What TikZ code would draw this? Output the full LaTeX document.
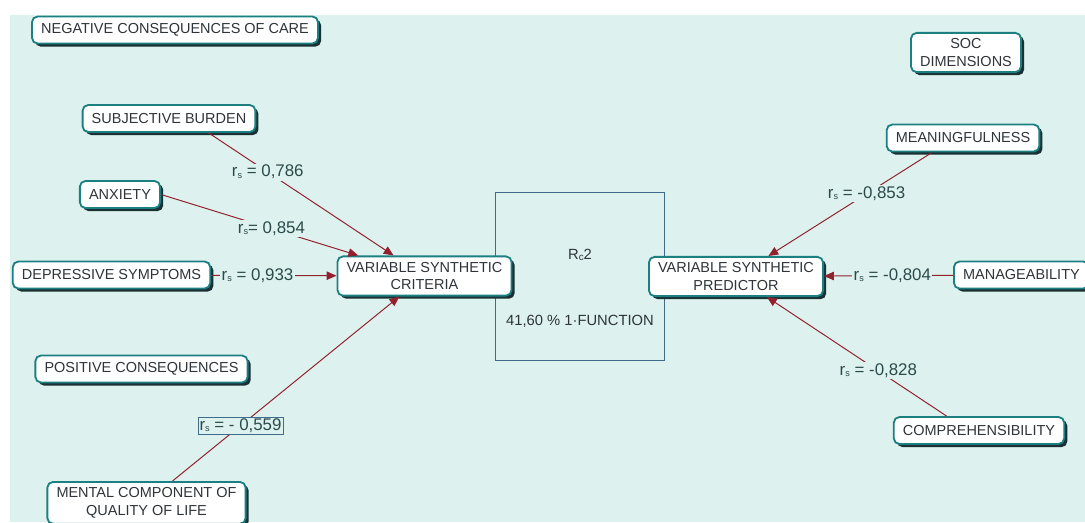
\documentclass[tikz,border=0pt]{standalone}
\usepackage{fontspec}
\setmainfont{Liberation Sans}
\usetikzlibrary{arrows.meta,shadows}
\definecolor{bgmint}{HTML}{DDF2EE}
\definecolor{boxteal}{HTML}{1C7F82}
\definecolor{shadowc}{HTML}{1A3034}
\definecolor{arrowred}{HTML}{93202F}
\definecolor{txtdark}{HTML}{2E3439}
\definecolor{labeldark}{HTML}{2B4A4C}
\definecolor{rcblue}{HTML}{3F6C8A}
\newcommand{\rsub}{r\raisebox{-0.15ex}{\fontsize{6.5}{6.5}\selectfont s}}

\begin{document}
\begin{tikzpicture}[x=0.025cm,y=-0.025cm,
 block/.style ={rectangle, draw=boxteal, line width=1.3pt, fill=white, text=txtdark, align=center, rounded corners=4pt, inner xsep=6.5pt, inner ysep=4pt, minimum height=0.675cm, font=\fontsize{10.3}{12.6}\selectfont, drop shadow={shadow xshift=2.2pt, shadow yshift=-2.2pt, fill=shadowc, opacity=1}},
 rcbox/.style ={rectangle, draw=rcblue, line width=0.7pt, minimum width=4.2cm, minimum height=4.175cm},
 plain/.style ={text=txtdark, font=\fontsize{10.5}{12.6}\selectfont},
 rlabel/.style ={fill=bgmint, text=labeldark, inner sep=1pt, font=\fontsize{12}{14}\selectfont},
 line/.style ={draw=arrowred, line width=0.7pt, -{Triangle[length=7pt,width=6pt]}, fill=none}]

\fill[white] (0,0) rectangle (1085,522);
\fill[bgmint] (10,15) rectangle (1085,522);
\useasboundingbox (0,0) rectangle (1085,522);

\draw (580,276.5) node[rcbox] (rc) {};
\draw (580,255) node[plain] (rcname) {R\raisebox{-0.2ex}{\fontsize{7}{7}\selectfont c}2};
\draw (580,321) node[plain] (rcvalue) {41,60 \% 1·FUNCTION};

\draw (175,30) node[block] (neg) {NEGATIVE CONSEQUENCES OF CARE};
\draw (966,52.5) node[block] (soc) {SOC\\DIMENSIONS};

\draw (169,118.5) node[block] (subj) {SUBJECTIVE BURDEN};
\draw (120,194.5) node[block] (anx) {ANXIETY};
\draw (111.5,275) node[block] (dep) {DEPRESSIVE SYMPTOMS};
\draw (141.5,369) node[block] (pos) {POSITIVE CONSEQUENCES};
\draw (146.5,481) node[block, anchor=north] (mental) {MENTAL COMPONENT OF\\QUALITY OF LIFE};

\draw (424.5,276) node[block] (crit) {VARIABLE SYNTHETIC\\CRITERIA};
\draw (736,276.5) node[block] (pred) {VARIABLE SYNTHETIC\\PREDICTOR};

\draw (963,138) node[block] (mean) {MEANINGFULNESS};
\draw (953,275) node[block, anchor=west] (manage) {MANAGEABILITY};
\draw (979,430.5) node[block] (comp) {COMPREHENSIBILITY};

	\draw [line] (subj.-20) to node[rlabel,pos=0.32]{\rsub\ = 0,786} (crit);
	\draw [line] (anx.east) to node[rlabel,pos=0.56]{\rsub= 0,854} (crit);
	\draw [line] (dep) to node[rlabel,pos=0.37]{\rsub\ = 0,933} (crit);
	\draw [line] (mental.40) to node[rlabel,draw=rcblue,line width=0.6pt,pos=0.3]{\rsub\ = - 0,559} (crit);

	\draw [line] (mean.205) to node[rlabel,pos=0.4]{\rsub\ = -0,853} (pred);
	\draw [line] (manage) to node[rlabel,pos=0.47]{\rsub\ = -0,804} (pred);
	\draw [line] (comp.156) to node[rlabel,pos=0.38]{\rsub\ = -0,828} (pred);

\end{tikzpicture}
\end{document}
